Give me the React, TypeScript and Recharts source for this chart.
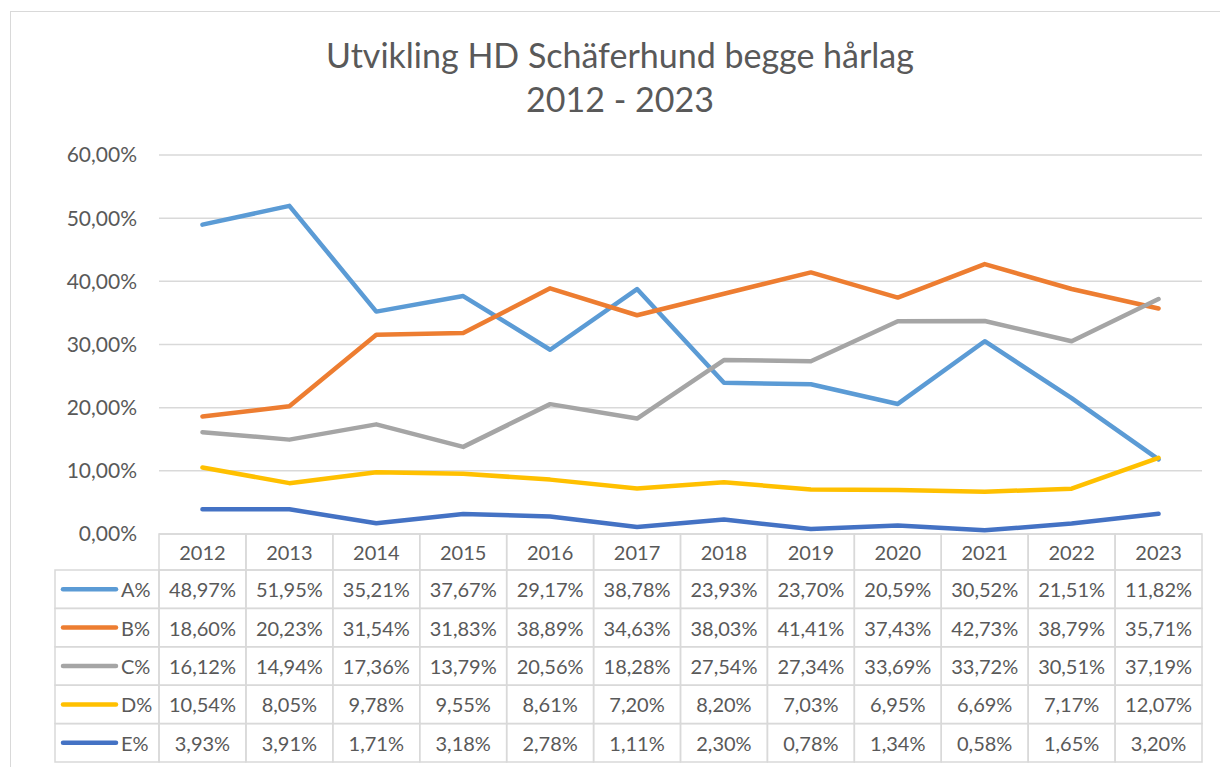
import { CartesianGrid, Line, LineChart, XAxis, YAxis } from "recharts";

const years = ["2012", "2013", "2014", "2015", "2016", "2017", "2018", "2019", "2020", "2021", "2022", "2023"];
const seriesA = [48.97, 51.95, 35.21, 37.67, 29.17, 38.78, 23.93, 23.7, 20.59, 30.52, 21.51, 11.82];
const seriesB = [18.6, 20.23, 31.54, 31.83, 38.89, 34.63, 38.03, 41.41, 37.43, 42.73, 38.79, 35.71];
const seriesC = [16.12, 14.94, 17.36, 13.79, 20.56, 18.28, 27.54, 27.34, 33.69, 33.72, 30.51, 37.19];
const seriesD = [10.54, 8.05, 9.78, 9.55, 8.61, 7.2, 8.2, 7.03, 6.95, 6.69, 7.17, 12.07];
const seriesE = [3.93, 3.91, 1.71, 3.18, 2.78, 1.11, 2.3, 0.78, 1.34, 0.58, 1.65, 3.2];
const seriesNames = ["A%", "B%", "C%", "D%", "E%"];
const seriesColors = ["#5B9BD5", "#ED7D31", "#A5A5A5", "#FFC000", "#4472C4"];
const yTicks = [0, 10, 20, 30, 40, 50, 60];
const titleLines = ["Utvikling HD Schäferhund begge hårlag", "2012 - 2023"];

const rows = [seriesA, seriesB, seriesC, seriesD, seriesE];

const data = years.map((year, i) => {
  const point: Record<string, string | number> = { year };
  seriesNames.forEach((name, k) => {
    point[name] = rows[k][i];
  });
  return point;
});

const W = 1220;
const H = 767;
const PLOT_LEFT = 159;
const PLOT_RIGHT = 1202;
const PLOT_TOP = 155;
const PLOT_BOTTOM = 534;
const HEAD_H = 36;
const ROW_H = 38.4;
const TABLE_H = HEAD_H + ROW_H * 5;
const COL_W = (PLOT_RIGHT - PLOT_LEFT) / years.length;
const LEGEND_LEFT = 55;
const BORDER = "#D9D9D9";
const TEXT = "#595959";
const FONT = "Lato, 'Open Sans', sans-serif";

function pct(v: number) {
  return `${v.toFixed(2).replace(".", ",")}%`;
}

// one table column per category: header year + a value cell per series
function TableColumn(props: any) {
  const { x, y, payload } = props;
  const i = typeof payload.index === "number" ? payload.index : years.indexOf(payload.value);
  const left = x - COL_W / 2;
  return (
    <g fontFamily={FONT} fontSize={20} fill={TEXT}>
      <rect x={left} y={y} width={COL_W} height={HEAD_H} fill="none" stroke={BORDER} strokeWidth={1.5} />
      <text x={x} y={y + HEAD_H / 2} textAnchor="middle" dominantBaseline="central" fill={TEXT}>
        {payload.value}
      </text>
      {rows.map((r, k) => {
        const top = y + HEAD_H + k * ROW_H;
        return (
          <g key={k}>
            <rect x={left} y={top} width={COL_W} height={ROW_H} fill="none" stroke={BORDER} strokeWidth={1.5} />
            <text x={x} y={top + ROW_H / 2} textAnchor="middle" dominantBaseline="central" fill={TEXT}>
              {pct(r[i])}
            </text>
          </g>
        );
      })}
      {i === 0 &&
        seriesNames.map((name, k) => {
          const top = y + HEAD_H + k * ROW_H;
          const cy = top + ROW_H / 2;
          return (
            <g key={name}>
              <rect
                x={LEGEND_LEFT}
                y={top}
                width={left - LEGEND_LEFT}
                height={ROW_H}
                fill="none"
                stroke={BORDER}
                strokeWidth={1.5}
              />
              <line
                x1={LEGEND_LEFT + 8}
                x2={LEGEND_LEFT + 61}
                y1={cy}
                y2={cy}
                stroke={seriesColors[k]}
                strokeWidth={4.5}
                strokeLinecap="round"
              />
              <text x={LEGEND_LEFT + 66} y={cy} dominantBaseline="central" fill={TEXT}>
                {name}
              </text>
            </g>
          );
        })}
    </g>
  );
}

export default function App() {
  return (
    <div
      style={{
        position: "absolute",
        left: 0,
        top: 0,
        width: W,
        height: H,
        overflow: "hidden",
        background: "#fff",
        fontFamily: FONT,
      }}
    >
      <div
        style={{
          position: "absolute",
          left: 10,
          top: 11,
          width: W + 40,
          height: H + 40,
          border: `1.5px solid ${BORDER}`,
        }}
      />
      <div
        style={{
          position: "absolute",
          left: 0,
          top: 33,
          width: 1240,
          textAlign: "center",
          color: TEXT,
          fontSize: 34,
          lineHeight: "44px",
        }}
      >
        {titleLines.map((t) => (
          <div key={t}>{t}</div>
        ))}
      </div>
      <div style={{ position: "absolute", left: 0, top: 0 }}>
        <LineChart
          width={W}
          height={H}
          data={data}
          margin={{ top: PLOT_TOP, right: W - PLOT_RIGHT, bottom: H - PLOT_BOTTOM - TABLE_H, left: 0 }}
        >
          <CartesianGrid stroke={BORDER} strokeWidth={1.5} vertical={false} />
          <XAxis
            dataKey="year"
            height={TABLE_H}
            interval={0}
            axisLine={false}
            tickLine={false}
            tickSize={0}
            tickMargin={0}
            padding={{ left: COL_W / 2, right: COL_W / 2 }}
            tick={<TableColumn />}
          />
          <YAxis
            width={PLOT_LEFT}
            domain={[0, 60]}
            ticks={yTicks}
            axisLine={false}
            tickLine={false}
            tickMargin={16}
            tickFormatter={pct}
            tick={{ fontSize: 21, fill: TEXT, fontFamily: FONT }}
          />
          {seriesNames.map((name, k) => (
            <Line
              key={name}
              type="linear"
              dataKey={name}
              stroke={seriesColors[k]}
              strokeWidth={4.5}
              strokeLinecap="round"
              strokeLinejoin="round"
              dot={false}
              activeDot={false}
              isAnimationActive={false}
            />
          ))}
        </LineChart>
      </div>
    </div>
  );
}
